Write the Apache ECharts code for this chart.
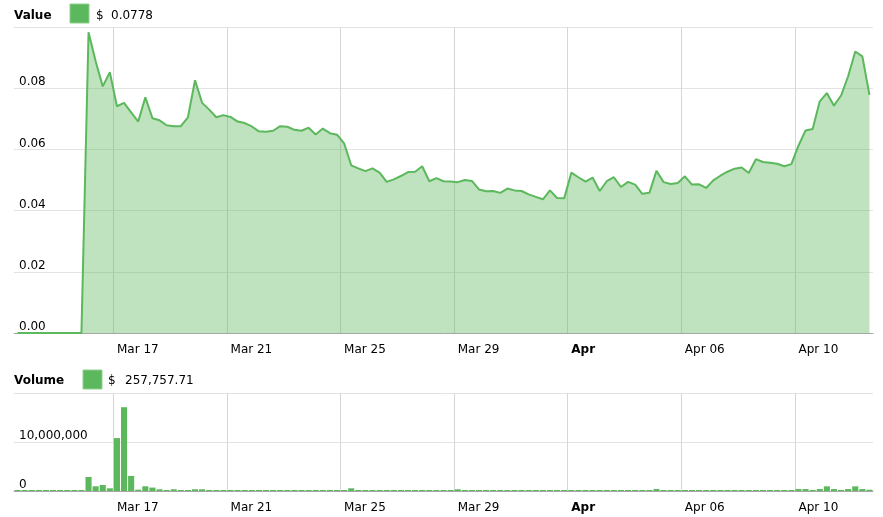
<!DOCTYPE html>
<html><head><meta charset="utf-8">
<script src="https://cdn.jsdelivr.net/npm/echarts@6/dist/echarts.min.js"></script>
<style>html,body{margin:0;padding:0;background:#fff}#c{width:883px;height:517px}</style>
</head><body><div id="c"></div>
<script>
// 6-hourly samples, first sample Mar 13 12:00
const startUTC = Date.UTC(2018, 2, 13, 12, 0, 0);
const stepHours = 6;

const priceValues = [
  0, 0, 0, 0, 0, 0, 0, 0, 0, 0,
  0.0983, 0.0888, 0.0806, 0.0852, 0.0741, 0.0752, 0.0721, 0.0691, 0.0770, 0.0702,
  0.0695, 0.0679, 0.0676, 0.0676, 0.0705, 0.0826, 0.0752, 0.0730, 0.0705, 0.0712,
  0.0706, 0.0691, 0.0686, 0.0675, 0.0659, 0.0658, 0.0661, 0.0676, 0.0674, 0.0664,
  0.0661, 0.0671, 0.0649, 0.0668, 0.0653, 0.0648, 0.0620, 0.0548, 0.0538, 0.0529,
  0.0538, 0.0524, 0.0494, 0.0502, 0.0513, 0.0526, 0.0527, 0.0545, 0.0496, 0.0506,
  0.0496, 0.0495, 0.0493, 0.0500, 0.0497, 0.0469, 0.0463, 0.0464, 0.0458, 0.0472,
  0.0466, 0.0464, 0.0453, 0.0445, 0.0437, 0.0466, 0.0441, 0.0440, 0.0524, 0.0509,
  0.0495, 0.0508, 0.0464, 0.0496, 0.0509, 0.0477, 0.0494, 0.0485, 0.0455, 0.0458,
  0.0530, 0.0493, 0.0487, 0.0490, 0.0512, 0.0485, 0.0486, 0.0474, 0.0499, 0.0514,
  0.0527, 0.0537, 0.0541, 0.0523, 0.0568, 0.0559, 0.0556, 0.0553, 0.0545, 0.0552,
  0.0612, 0.0662, 0.0667, 0.0757, 0.0784, 0.0743, 0.0776, 0.0839, 0.0920, 0.0904,
  0.0778
];

const volumeValues = [
  0, 0, 0, 0, 0, 0, 0, 0, 0, 0,
  2870000, 960000, 1230000, 550000, 10800000, 17100000, 3080000, 270000, 960000, 700000,
  350000, 180000, 350000, 180000, 200000, 350000, 350000, 200000, 180000, 200000,
  200000, 180000, 200000, 200000, 180000, 200000, 200000, 180000, 200000, 200000,
  180000, 200000, 200000, 180000, 200000, 200000, 180000, 550000, 200000, 180000,
  200000, 200000, 180000, 200000, 200000, 180000, 200000, 200000, 180000, 200000,
  200000, 180000, 350000, 200000, 180000, 200000, 200000, 180000, 200000, 200000,
  180000, 200000, 200000, 180000, 200000, 200000, 180000, 200000, 200000, 180000,
  200000, 200000, 180000, 200000, 200000, 180000, 200000, 200000, 180000, 200000,
  400000, 200000, 180000, 200000, 200000, 180000, 200000, 200000, 180000, 200000,
  200000, 180000, 200000, 200000, 180000, 200000, 200000, 180000, 200000, 200000,
  400000, 400000, 200000, 400000, 950000, 400000, 200000, 400000, 950000, 400000,
  257757.71
];

const tickKeys   = ['03-17 00', '03-21 00', '03-25 00', '03-29 00', '04-02 00', '04-06 00', '04-10 00'];
const tickLabels = ['Mar 17', 'Mar 21', 'Mar 25', 'Mar 29', 'Apr', 'Apr 06', 'Apr 10'];
const monthTickLabels = ['Apr'];

const pad = n => String(n).padStart(2, '0');
const categories = priceValues.map((_, i) => {
  const d = new Date(startUTC + i * stepHours * 3600 * 1000);
  return pad(d.getUTCMonth() + 1) + '-' + pad(d.getUTCDate()) + ' ' + pad(d.getUTCHours());
});

const FONT = 'DejaVu Sans, Verdana, sans-serif';
const GREEN = '#5cb85c';

const isTick = (idx, val) => tickKeys.indexOf(val) >= 0;
const tickFmt = val => {
  const k = tickKeys.indexOf(val);
  if (k < 0) return '';
  const t = tickLabels[k];
  return monthTickLabels.indexOf(t) >= 0 ? '{b|' + t + '}' : t;
};

function xAxisFor(gi) {
  return {
    type: 'category', gridIndex: gi, data: categories, boundaryGap: true,
    axisLine: { show: true, lineStyle: { color: '#a6a6a6', width: 1 } },
    axisTick: { show: false },
    axisLabel: {
      interval: isTick, formatter: tickFmt, align: 'left', margin: 11,
      color: '#000', fontSize: 12, fontFamily: FONT,
      rich: { b: { fontWeight: 'bold', fontSize: 12, fontFamily: FONT, color: '#000' } }
    },
    splitLine: { show: true, interval: isTick, showMaxLine: false,
      lineStyle: { color: '#d6d6d6', width: 1 } }
  };
}

const lastPrice = priceValues[priceValues.length - 1];
const lastVolume = volumeValues[volumeValues.length - 1];

const chart = echarts.init(document.getElementById('c'), null, { renderer: 'canvas' });
chart.setOption({
  animation: false,
  grid: [
    { left: 14, right: 10, top: 27, height: 306 },
    { left: 14, right: 10, top: 393, height: 98 }
  ],
  xAxis: [xAxisFor(0), xAxisFor(1)],
  yAxis: [
    {
      type: 'value', gridIndex: 0, min: 0, max: 0.1, interval: 0.02,
      axisLine: { show: false }, axisTick: { show: false },
      axisLabel: { inside: true, margin: 5, verticalAlign: 'bottom', showMaxLabel: false,
        color: '#000', fontSize: 12, fontFamily: FONT, formatter: v => v.toFixed(2) },
      splitLine: { lineStyle: { color: '#e3e3e3', width: 1 } }
    },
    {
      type: 'value', gridIndex: 1, min: 0, max: 20000000, interval: 10000000,
      axisLine: { show: false }, axisTick: { show: false },
      axisLabel: { inside: true, margin: 5, verticalAlign: 'bottom', showMaxLabel: false,
        color: '#000', fontSize: 12, fontFamily: FONT,
        formatter: v => Math.round(v).toLocaleString('en-US') },
      splitLine: { lineStyle: { color: '#e3e3e3', width: 1 } }
    }
  ],
  graphic: [
    { type: 'text', left: 14, top: 10, style: { text: 'Value', font: 'bold 12px ' + FONT, fill: '#000' } },
    { type: 'rect', shape: { x: 70, y: 4, width: 19, height: 19 }, style: { fill: GREEN, stroke: '#8fd08f', lineWidth: 1 } },
    { type: 'text', left: 96, top: 10, style: { text: '$', font: '12px ' + FONT, fill: '#000' } },
    { type: 'text', left: 111, top: 10, style: { text: lastPrice.toFixed(4), font: '12px ' + FONT, fill: '#000' } },
    { type: 'text', left: 14, top: 375, style: { text: 'Volume', font: 'bold 12px ' + FONT, fill: '#000' } },
    { type: 'rect', shape: { x: 83, y: 370, width: 19, height: 19 }, style: { fill: GREEN, stroke: '#8fd08f', lineWidth: 1 } },
    { type: 'text', left: 108, top: 375, style: { text: '$', font: '12px ' + FONT, fill: '#000' } },
    { type: 'text', left: 125, top: 375, style: { text: lastVolume.toLocaleString('en-US', { minimumFractionDigits: 2, maximumFractionDigits: 2 }), font: '12px ' + FONT, fill: '#000' } }
  ],
  series: [
    {
      type: 'line', xAxisIndex: 0, yAxisIndex: 0, data: priceValues,
      symbol: 'none', lineStyle: { color: GREEN, width: 2 },
      itemStyle: { color: GREEN },
      areaStyle: { color: 'rgba(92,184,92,0.4)', opacity: 1, origin: 'start' }
    },
    {
      type: 'bar', xAxisIndex: 1, yAxisIndex: 1, data: volumeValues,
      barCategoryGap: '14%', barMinHeight: 1,
      itemStyle: { color: GREEN }
    }
  ]
});
</script>
</body></html>
